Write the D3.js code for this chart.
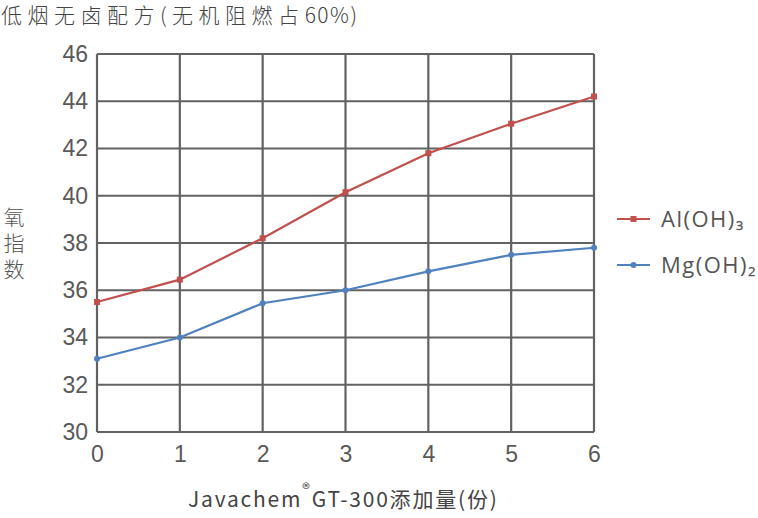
<!DOCTYPE html>
<html>
<head>
<meta charset="utf-8">
<script src="https://cdn.jsdelivr.net/npm/d3@7"></script>
<style>
  body { margin: 0; background: #fff; }
  svg { display: block; font-family: "Noto Sans CJK SC", "Noto Sans", sans-serif; }
</style>
</head>
<body>
<svg class="chart" width="758" height="518"></svg>
<script>
// data
let parts = [0, 1, 2, 3, 4, 5, 6];
let alValues = [35.5, 36.45, 38.2, 40.15, 41.8, 43.05, 44.2];
let mgValues = [33.1, 34.0, 35.45, 36.0, 36.8, 37.5, 37.8];
let yTicks = [30, 32, 34, 36, 38, 40, 42, 44, 46];
let seriesNames = ["Al(OH)\u2083", "Mg(OH)\u2082"];

let svg = d3.select(".chart");
let margin = { top: 54, left: 97 };
let plotWidth = 594 - 97;
let plotHeight = 432 - 54;

let xScale = d3.scaleLinear().domain([0, 6]).range([0, plotWidth]);
let yScale = d3.scaleLinear().domain([30, 46]).range([plotHeight, 0]);

let plot = svg.append("g").attr("transform", translate(margin.left, margin.top));

// grid
let gridColor = "#626262";
plot.append("g").selectAll("line").data(yTicks).join("line")
  .attr("x1", 0).attr("x2", plotWidth)
  .attr("y1", d => yScale(d)).attr("y2", d => yScale(d))
  .attr("stroke", gridColor).attr("stroke-width", 2.2);
plot.append("g").selectAll("line").data(parts).join("line")
  .attr("x1", d => xScale(d)).attr("x2", d => xScale(d))
  .attr("y1", 0).attr("y2", plotHeight)
  .attr("stroke", gridColor).attr("stroke-width", 2.2);

// axes (labels only)
let xAxis = d3.axisBottom(xScale).tickValues(parts).tickFormat(d3.format("d")).tickSize(0).tickPadding(14);
let yAxis = d3.axisLeft(yScale).tickValues(yTicks).tickSize(0).tickPadding(9);
let xGroup = plot.append("g").attr("transform", translate(0, plotHeight)).call(xAxis);
let yGroup = plot.append("g").call(yAxis);
[xGroup, yGroup].forEach(g => {
  g.select(".domain").remove();
  g.selectAll("text").attr("fill", "#595959").style("font-size", "23px")
    .style("font-family", "'Liberation Sans', Arial, sans-serif");
});

// lines
let line = d3.line().x((d, i) => xScale(parts[i])).y(d => yScale(d));
let colors = ["#c0504d", "#4f81bd"];
[alValues, mgValues].forEach((vals, k) => {
  plot.append("path").datum(vals)
    .attr("fill", "none").attr("stroke", colors[k]).attr("stroke-width", 2.2)
    .attr("d", line);
  if (k === 0) {
    plot.append("g").selectAll("rect").data(vals).join("rect")
      .attr("x", (d, i) => xScale(parts[i]) - 3).attr("y", d => yScale(d) - 3)
      .attr("width", 6).attr("height", 6).attr("fill", colors[k]);
  } else {
    plot.append("g").selectAll("circle").data(vals).join("circle")
      .attr("cx", (d, i) => xScale(parts[i])).attr("cy", d => yScale(d))
      .attr("r", 3).attr("fill", colors[k]);
  }
});

// legend
let legend = svg.append("g");
seriesNames.forEach((name, k) => {
  let y = 219 + k * 46;
  legend.append("line").attr("x1", 617).attr("x2", 650).attr("y1", y).attr("y2", y)
    .attr("stroke", colors[k]).attr("stroke-width", 2.2);
  if (k === 0) {
    legend.append("rect").attr("x", 630.5).attr("y", y - 3).attr("width", 6).attr("height", 6).attr("fill", colors[k]);
  } else {
    legend.append("circle").attr("cx", 633.5).attr("cy", y).attr("r", 3).attr("fill", colors[k]);
  }
  legend.append("text").attr("x", 661).attr("y", y + 8).text(name)
    .attr("fill", "#555").style("font-size", "22px").style("letter-spacing", "1.5px")
    .style("font-family", "'Open Sans', 'Noto Sans', sans-serif");
});

// title
let title = svg.append("text").attr("x", 1).attr("y", 23)
  .attr("fill", "#444").style("font-size", "21px").style("font-weight", 300);
title.append("tspan").style("letter-spacing", "5.5px").text("低烟无卤配方(无机阻燃占");
title.append("tspan").style("letter-spacing", "1.5px").text("60%)");

// y-axis label, written vertically
svg.append("text").attr("x", 14).attr("y", 207)
  .attr("fill", "#555").style("font-size", "21px").style("font-weight", 300)
  .style("writing-mode", "vertical-rl").style("text-orientation", "upright")
  .style("letter-spacing", "5px")
  .text("氧指数");

// x-axis label
let xl = svg.append("text").attr("x", 188).attr("y", 507).attr("fill", "#444")
  .style("font-size", "21px").style("letter-spacing", "1.8px");
xl.append("tspan").text("Javachem");
xl.append("tspan").attr("dy", -12).style("font-size", "16px").text("®");
xl.append("tspan").attr("dy", 12).text("GT-300添加量(份)");

function translate(x, y) {
  return 'translate(' + x + ',' + y + ')';
}
</script>
</body>
</html>
